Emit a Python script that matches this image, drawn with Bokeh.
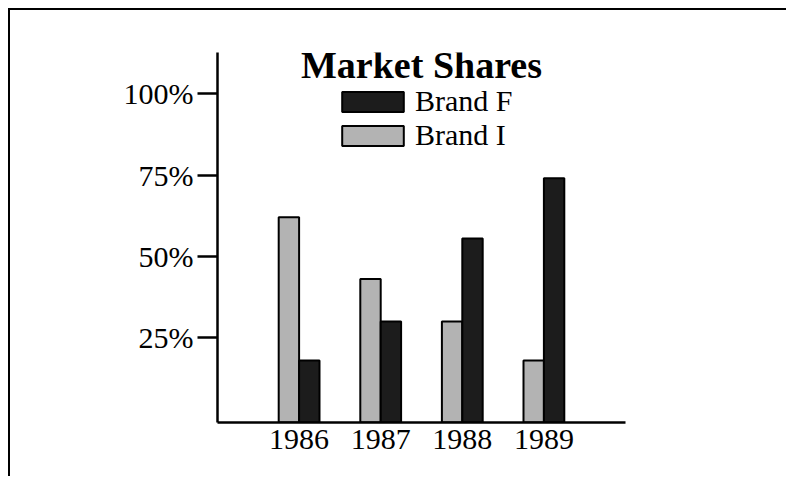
from bokeh.plotting import figure
from bokeh.models import Range1d, FixedTicker, Legend, LegendItem, Label, ColumnDataSource
from bokeh.transform import dodge
from bokeh.embed import file_html
from bokeh.resources import INLINE

years = ["1986", "1987", "1988", "1989"]
brand_f = [18, 30, 55.5, 74]
brand_i = [62, 43, 30, 18]
y_ticks = [25, 50, 75, 100]
y_tick_labels = ["25%", "50%", "75%", "100%"]
title_text = "Market Shares"

FONT = "Liberation Serif"
pos = [i + 1 for i in range(len(years))]
x_start, x_end = 0, len(years) + 1
y_start, y_end = -1.1, 112.7

p = figure(width=778, height=468, output_backend="svg", toolbar_location=None,
           x_range=Range1d(x_start, x_end), y_range=Range1d(y_start, y_end),
           min_border_left=207, min_border_right=163, min_border_top=42,
           min_border_bottom=56)
p.styles = {"border-left": "2px solid black", "border-top": "2px solid black",
            "margin-left": "8px", "margin-top": "8px"}
p.outline_line_color = None
p.background_fill_color = "white"
p.border_fill_color = "white"
p.xgrid.visible = False
p.ygrid.visible = False

src = ColumnDataSource(dict(pos=pos, f=brand_f, i=brand_i))
ri = p.vbar(x=dodge("pos", -0.125, range=p.x_range), top="i", bottom=y_start,
            width=0.25, source=src, fill_color="#b3b3b3", line_color="black",
            line_width=2)
rf = p.vbar(x=dodge("pos", 0.125, range=p.x_range), top="f", bottom=y_start,
            width=0.25, source=src, fill_color="#1c1c1c", line_color="black",
            line_width=2)

for ax in (p.xaxis[0], p.yaxis[0]):
    ax.axis_line_width = 2.5
    ax.axis_line_color = "black"
    ax.major_tick_line_color = "black"
    ax.major_tick_line_width = 2.5
    ax.minor_tick_line_color = None
    ax.major_label_text_font = FONT
    ax.major_label_text_font_size = "30px"
    ax.major_label_text_color = "black"

p.xaxis.ticker = FixedTicker(ticks=pos)
p.xaxis.major_label_overrides = {k: v for k, v in zip(pos, years)}
p.xaxis.major_tick_out = 0
p.xaxis.major_tick_in = 0
p.xaxis.major_label_standoff = 7

p.yaxis.ticker = FixedTicker(ticks=y_ticks)
p.yaxis.major_label_overrides = {k: v for k, v in zip(y_ticks, y_tick_labels)}
p.yaxis.major_tick_out = 20
p.yaxis.major_tick_in = 0
p.yaxis.major_label_standoff = 4

legend = Legend(items=[LegendItem(label="Brand F", renderers=[rf]),
                       LegendItem(label="Brand I", renderers=[ri])],
                location=(117, 270), padding=0, spacing=0, margin=0,
                glyph_width=77, glyph_height=25, label_standoff=4,
                label_text_font=FONT, label_text_font_size="30px",
                label_text_color="black",
                border_line_color=None, background_fill_alpha=0)
p.add_layout(legend)

p.add_layout(Label(x=(x_start + x_end) / 2, y=108.8, text=title_text,
                   text_align="center", text_baseline="alphabetic",
                   text_font=FONT, text_font_size="38px", text_font_style="bold",
                   text_color="black"))

open("out.html", "w").write(file_html(p, INLINE))
